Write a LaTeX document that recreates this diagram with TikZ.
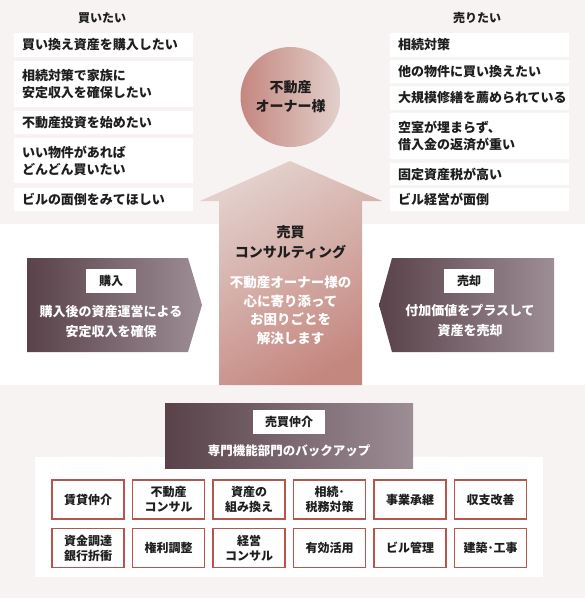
\documentclass[tikz,border=0pt]{standalone}
\usepackage{fontspec}
\setmainfont{Noto Sans CJK JP}
\usetikzlibrary{positioning,shapes.geometric}

\definecolor{panelgray}{HTML}{F7F3F3}
\definecolor{rosedark}{HTML}{C4877F}
\definecolor{roselight}{HTML}{E3D0CC}
\definecolor{plumdark}{HTML}{59424A}
\definecolor{plumlight}{HTML}{9D8D95}
\definecolor{boxred}{HTML}{B4564D}
\definecolor{inkgray}{HTML}{1E1E1E}

\begin{document}
\begin{tikzpicture}
[
  x=1pt, y=-1pt,
  text=inkgray,
  font=\bfseries\fontsize{13}{17}\selectfont,
  wish/.style={fill=white, inner xsep=8pt, inner ysep=0pt, text width=163pt, align=left, minimum height=#1},
  wish/.default=24pt,
  wishhead/.style={font=\bfseries\fontsize{12}{14}\selectfont},
  tag/.style={fill=white, minimum width=50pt, minimum height=24pt, inner sep=0pt, font=\bfseries\fontsize{12}{14}\selectfont},
  whitetext/.style={text=white, align=center, font=\bfseries\fontsize{13}{20}\selectfont},
  service/.style={draw=boxred, line width=1.1pt, fill=white, minimum width=72pt, minimum height=39pt, inner sep=0pt, align=center, font=\bfseries\fontsize{12}{15}\selectfont}
]
 \useasboundingbox (0,0) rectangle (585,600);

 % panels
 \fill[panelgray] (0,0) rectangle (585,224);
 \fill[panelgray] (0,385) rectangle (585,598);

 % buyers
 \node[wishhead] (buyhead) at (102,18) {買いたい};
 \node[wish] (buy1) at (103.5,45) {買い換え資産を購入したい};
 \node[wish=46pt] (buy2) at (103.5,84) {相続対策で家族に\\安定収入を確保したい};
 \node[wish=23pt] (buy3) at (103.5,122.5) {不動産投資を始めたい};
 \node[wish=45pt] (buy4) at (103.5,160.5) {いい物件があれば\\どんどん買いたい};
 \node[wish=23pt] (buy5) at (103.5,199.5) {ビルの面倒をみてほしい};

 % sellers
 \node[wishhead] (sellhead) at (477,18) {売りたい};
 \node[wish] (sell1) at (479.5,45) {相続対策};
 \node[wish=23pt] (sell2) at (479.5,71.5) {他の物件に買い換えたい};
 \node[wish] (sell3) at (479.5,98) {大規模修繕を薦められている};
 \node[wish=46pt] (sell4) at (479.5,136) {空室が埋まらず、\\借入金の返済が重い};
 \node[wish=22pt] (sell5) at (479.5,174) {固定資産税が高い};
 \node[wish=23pt] (sell6) at (479.5,199.5) {ビル経営が面倒};

 % owner + arrow
 \node[circle, minimum size=100pt, left color=rosedark, right color=roselight, align=center,
   font=\bfseries\fontsize{14}{19}\selectfont] (owner) at (290.5,97) {不動産\\オーナー様};
 \shade[top color=roselight, bottom color=rosedark, shading angle=30]
   (290,161) -- (382,201) -- (362,201) -- (362,385) -- (219,385) -- (219,201) -- (200,201) -- cycle;
 \node[align=center, font=\bfseries\fontsize{14}{20}\selectfont] (consult) at (290.5,242) {売買\\コンサルティング};
 \node[whitetext, font=\bfseries\fontsize{13.5}{18.5}\selectfont] (promise) at (290.5,310.5)
   {不動産オーナー様の\\心に寄り添って\\お困りごとを\\解決します};

 % buy / sell
 \shade[left color=plumdark, right color=plumlight]
   (27,258) -- (188,258) -- (202,305) -- (188,352) -- (27,352) -- cycle;
 \shade[left color=plumdark, right color=plumlight]
   (392,258) -- (554,258) -- (554,352) -- (392,352) -- (379,305) -- cycle;
 \node[tag] (buytag) at (111,281) {購入};
 \node[whitetext] (buytext) at (111,322) {購入後の資産運営による\\安定収入を確保};
 \node[tag] (selltag) at (469,281) {売却};
 \node[whitetext] (selltext) at (470,321) {付加価値をプラスして\\資産を売却};

 % brokerage
 \fill[white] (35,457) rectangle (543,577);
 \shade[left color=plumdark, right color=plumlight] (165,403) rectangle (413,468);
 \node[tag, minimum width=72pt] (brokertag) at (289,422) {売買仲介};
 \node[whitetext, font=\bfseries\fontsize{12.5}{15}\selectfont] (backup) at (289,451) {専門機能部門のバックアップ};

 \foreach \txt [count=\i from 0] in {{賃貸仲介},{不動産\\コンサル},{資産の\\組み換え},{相続･\\税務対策},{事業承継},{収支改善}}
   \node[service] (upper\i) at (88+80.5*\i,499.5) {\txt};
 \foreach \txt [count=\i from 0] in {{資金調達\\銀行折衝},{権利調整},{経営\\コンサル},{有効活用},{ビル管理},{建築･工事}}
   \node[service] (lower\i) at (88+80.5*\i,548) {\txt};
\end{tikzpicture}
\end{document}
